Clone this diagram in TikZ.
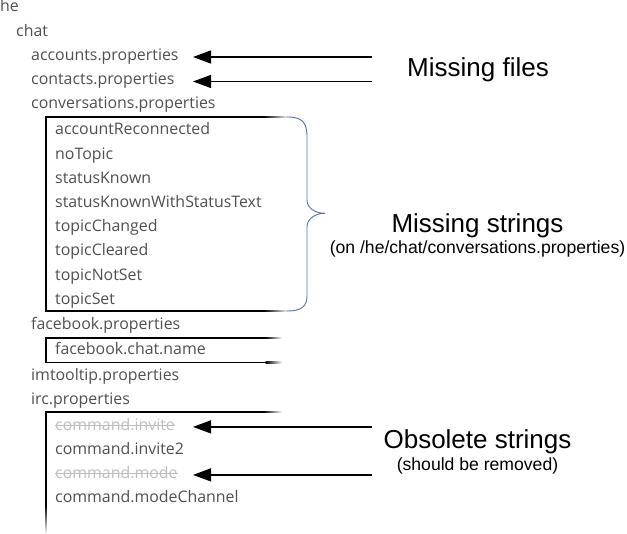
\documentclass[tikz,border=0pt]{standalone}
\usepackage{fontspec}
\setmainfont{Liberation Sans}
\newfontfamily\treefont{Open Sans}
\usetikzlibrary{arrows.meta}
\definecolor{treegray}{RGB}{80,80,80}
\definecolor{obsgray}{RGB}{190,190,190}
\definecolor{braceblue}{RGB}{80,115,175}
\begin{document}
\begin{tikzpicture}[x=1pt,y=-1pt,
  tree/.style={anchor=base west, inner sep=0pt, font=\treefont\fontsize{15.9}{18}\selectfont, text=treegray},
  obs/.style={tree, text=obsgray},
  strike/.style={draw=obsgray, line width=0.9pt},
  boxline/.style={draw=black, line width=1.3pt},
  big/.style={anchor=base, inner sep=0pt, font=\fontsize{26}{30}\selectfont, text=black},
  small/.style={anchor=base, inner sep=0pt, font=\fontsize{17.6}{20}\selectfont, text=black},
  arr/.style={line width=1.3pt, -{Triangle[length=18pt,width=13pt]}},
  brace/.style={draw=braceblue, line width=0.9pt}
]
\useasboundingbox (0,0) rectangle (627,534);

% tree
\node[tree] (he) at (0,12) {he};
\node[tree] (chat) at (16,36.5) {chat};
\node[tree] (acc) at (31,61) {accounts.properties};
\node[tree] (con) at (31,85) {contacts.properties};
\node[tree] (conv) at (31,109) {conversations.properties};
\node[tree] (s1) at (55,135) {accountReconnected};
\node[tree] (s2) at (55,159.3) {noTopic};
\node[tree] (s3) at (55,183.3) {statusKnown};
\node[tree] (s4) at (55,207.3) {statusKnownWithStatusText};
\node[tree] (s5) at (55,231.7) {topicChanged};
\node[tree] (s6) at (55,256) {topicCleared};
\node[tree] (s7) at (55,280.7) {topicNotSet};
\node[tree] (s8) at (55,305) {topicSet};
\node[tree] (fbp) at (31,330) {facebook.properties};
\node[tree] (fbn) at (55,355) {facebook.chat.name};
\node[tree] (imt) at (31,380.5) {imtooltip.properties};
\node[tree] (irc) at (31,405) {irc.properties};
\node[obs] (ci) at (55,430.5) {command.invite};
\node[tree] (ci2) at (55,454.5) {command.invite2};
\node[obs] (cm) at (55,478.5) {command.mode};
\node[tree] (cmc) at (55,503) {command.modeChannel};

% strike-through
\draw[strike] ([yshift=5pt]ci.base west) -- ([yshift=5pt]ci.base east);
\draw[strike] ([yshift=5pt]cm.base west) -- ([yshift=5pt]cm.base east);

% boxes
\draw[boxline] (264,117) -- (46,117) -- (46,311) -- (264,311);
\shade[left color=black, right color=white] (263.5,116.35) rectangle (289,117.65);
\shade[left color=black, right color=white] (263.5,310.35) rectangle (289,311.65);

\draw[boxline] (266,338) -- (46,338) -- (46,362.5) -- (266,362.5);
\shade[left color=black, right color=white] (265.5,337.35) rectangle (282,338.65);
\shade[left color=black, right color=white] (265.5,361.85) rectangle (282,363.15);

\draw[boxline] (264,412) -- (46,412) -- (46,506);
\shade[left color=black, right color=white] (263.5,411.35) rectangle (282,412.65);
\shade[top color=black, bottom color=white] (45.35,505.5) rectangle (46.65,534);

% brace
\draw[brace] (287,117) .. controls (302,117) and (307,122) .. (307,137) -- (307,200)
  .. controls (307,208) and (315,213.3) .. (325,213.3)
  .. controls (315,213.3) and (307,219) .. (307,227) -- (307,296)
  .. controls (307,306) and (302,311) .. (287,311);

% labels
\node[big] (mf) at (478,76.7) {Missing files};
\node[big] (ms) at (477.5,232.7) {Missing strings};
\node[small] (msn) at (477.5,253.5) {(on /he/chat/conversations.properties)};
\node[big] (os) at (477.5,448.3) {Obsolete strings};
\node[small] (osn) at (477.5,470.8) {(should be removed)};

% arrows
\coordinate (xr) at (372,0);
\coordinate (xt) at (193,0);
\coordinate (accm) at ([yshift=4pt]acc.base east);
\coordinate (conm) at ([yshift=3.5pt]con.base east);
\coordinate (cim) at ([yshift=3.6pt]ci.base east);
\coordinate (cmm) at ([yshift=3.6pt]cm.base east);
\draw[arr] (accm -| xr) -- (accm -| xt);
\draw[arr] (conm -| xr) -- (conm -| xt);
\draw[arr] (cim -| xr) -- (cim -| xt);
\draw[arr] (cmm -| xr) -- (cmm -| xt);
\end{tikzpicture}
\end{document}
